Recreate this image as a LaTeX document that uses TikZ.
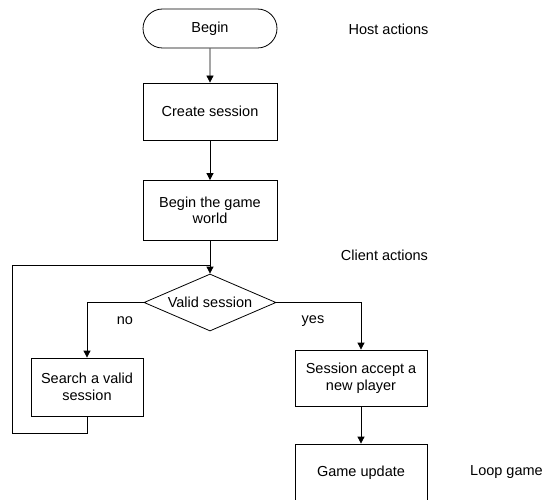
\documentclass[tikz,border=0pt]{standalone}
\usepackage{fontspec}
\setmainfont{Liberation Sans}
\usetikzlibrary{shapes.misc,shapes.geometric,arrows.meta}
\begin{document}
\begin{tikzpicture}[x=1pt,y=-1pt,
  font=\fontsize{14.5}{16.5}\selectfont,
  every node/.style={inner sep=0pt, align=center},
  box/.style={draw, line width=0.8pt, minimum width=134pt, minimum height=57pt},
  term/.style={draw, line width=0.8pt, rounded rectangle, minimum width=134pt, minimum height=39pt},
  dec/.style={draw, line width=0.8pt, diamond, minimum width=132pt, minimum height=57pt},
  conn/.style={line width=0.8pt},
  arr/.style={conn, -{Triangle[length=7pt,width=7pt]}}]
\useasboundingbox (0,0) rectangle (544,500);
\node[term] (begin) at (210,28.5) {Begin};
\node[box] (create) at (210,111.5) {Create session};
\node[box, minimum height=60pt] (world) at (210,210.5) {Begin the game\\world};
\node[dec] (valid) at (210,302.5) {};
\node (validtext) at (valid.center) {Valid session};
\node[box, minimum width=112pt, minimum height=58pt] (search) at (87,387) {Search a valid\\session};
\node[box, minimum width=132pt, minimum height=56pt] (accept) at (361,378) {Session accept a\\new player};
\node[box, minimum width=132pt, minimum height=58pt] (game) at (361,473) {Game update};
\node (host) at (388.5,29) {Host actions};
\node (client) at (384.5,255) {Client actions};
\node[anchor=west] (loopg) at (470,472) {Loop game};
\node (no) at (125,321) {no};
\node (yes) at (313,321) {yes};
\coordinate (lp) at (12,433);
\coordinate (merge) at (210,265);
\draw[arr] (begin) -- (create);
\draw[arr] (create) -- (world);
\draw[arr] (world) -- (valid.north);
\draw[arr] (valid.west) -| (search.north);
\draw[arr] (valid.east) -| (accept.north);
\draw[arr] (accept) -- (game);
\draw[conn] (search.south) |- (lp) |- (merge);
\end{tikzpicture}
\end{document}
